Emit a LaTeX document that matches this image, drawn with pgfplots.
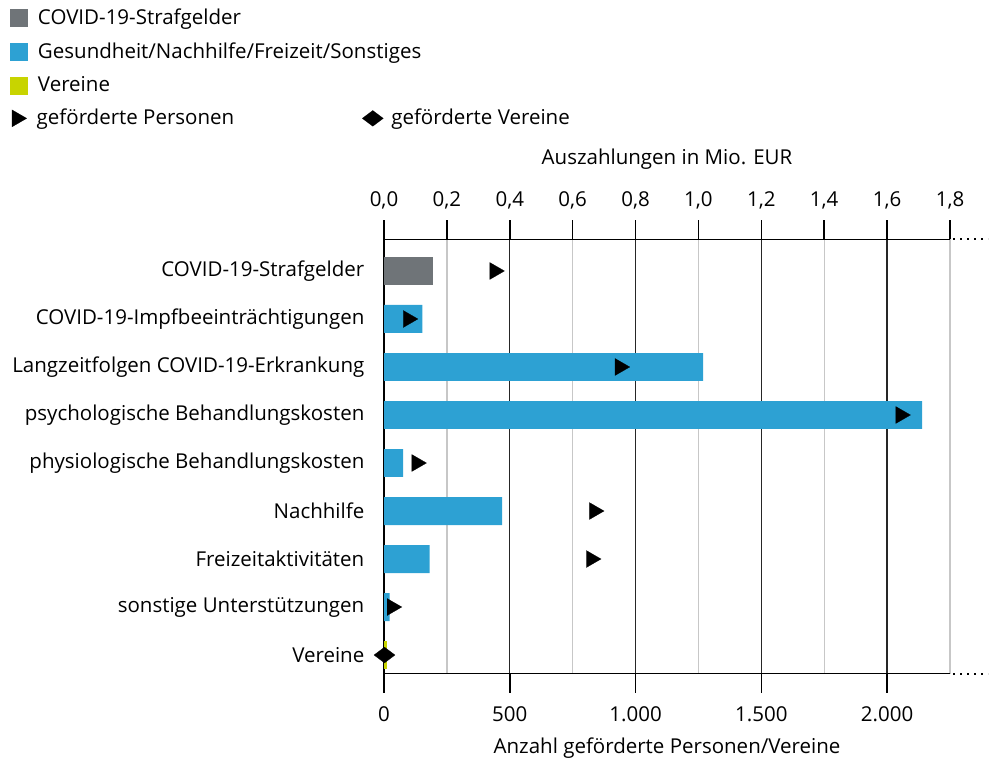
\documentclass[border=0pt]{standalone}
\usepackage{fontspec}
\setmainfont{Open Sans}
\usepackage{pgfplots}
\pgfplotsset{compat=1.18}

\definecolor{cgray}{RGB}{111,116,120}
\definecolor{cblue}{RGB}{45,161,211}
\definecolor{cyellow}{RGB}{200,212,0}

\pgfplotsset{
  base/.style={
    scale only axis, width=566pt, height=434pt,
    at={(667pt,305.5pt)}, anchor=center,
    xmin=0, ymin=-0.656, ymax=8.385, y dir=reverse,
    /pgf/number format/assume math mode=true,
    scaled x ticks=false,
  },
}

\begin{document}
\fontsize{20.5}{24}\selectfont
\begin{tikzpicture}
\useasboundingbox (0pt,0pt) rectangle (992pt,762pt);

% grid + bottom axis (persons)
\begin{axis}[base, xmax=2250,
  axis x line=bottom, axis y line=none,
  axis line style={-, line width=1.6pt, black},
  xtick={0,500,1000,1500,2000},
  minor xtick={250,750,1250,1750,2250},
  xmajorgrids, xminorgrids,
  major grid style={black!85, line width=1.3pt},
  minor grid style={black!22, line width=1.3pt},
  tick align=outside, major tick length=19pt, minor tick length=0pt,
  xtick style={black, line width=1.6pt},
  xticklabel style={inner sep=0pt, yshift=-13.5pt,
    /pgf/number format/fixed, /pgf/number format/precision=0,
    /pgf/number format/1000 sep={.}},
  xlabel={Anzahl geförderte Personen/Vereine},
  xlabel style={at={(axis description cs:0.5,0)}, anchor=base, yshift=-79.5pt, inner sep=0pt},
  ytick=\empty, clip=false]
\addplot[draw=none] coordinates {(0,0)};
\draw[line width=2pt, dash pattern=on 2pt off 5pt] ([xshift=3pt]axis description cs:1,0) -- ([xshift=38pt]axis description cs:1,0);
\draw[line width=2pt, dash pattern=on 2pt off 5pt] ([xshift=3pt]axis description cs:1,1) -- ([xshift=38pt]axis description cs:1,1);
\end{axis}

% bars (Mio. EUR), top axis
\begin{axis}[base, xmax=1.8,
  axis x line=top, axis y line=left,
  axis line style={-, line width=1.6pt, black},
  xtick={0,0.2,0.4,0.6,0.8,1.0,1.2,1.4,1.6,1.8},
  tick align=outside, major tick length=19pt,
  xtick style={black, line width=1.6pt},
  xticklabel style={inner sep=0pt, yshift=11pt,
    /pgf/number format/fixed, /pgf/number format/fixed zerofill,
    /pgf/number format/precision=1, /pgf/number format/use comma},
  xlabel={Auszahlungen in Mio. EUR},
  xlabel style={at={(axis description cs:0.5,1)}, anchor=base, yshift=74.5pt, inner sep=0pt},
  ytick={0,1,2,3,4,5,6,7,8},
  yticklabels={COVID-19-Strafgelder, COVID-19-Impfbeeinträchtigungen, Langzeitfolgen COVID-19-Erkrankung, psychologische Behandlungskosten, physiologische Behandlungskosten, Nachhilfe, Freizeitaktivitäten, sonstige Unterstützungen, Vereine},
  ytick style={draw=none},
  yticklabel style={inner sep=0pt, xshift=-0.5pt},
  legend image code/.code={\fill[#1] (0pt,-9pt) rectangle (18pt,9pt);},
  legend style={at={(axis description cs:-0.6608,1.5311)}, anchor=north west,
    draw=none, fill=none, inner sep=0pt, outer sep=0pt, row sep=15.2pt,
    nodes={inner sep=0pt},
    /tikz/every odd column/.append style={column sep=10pt}},
  legend cell align=left]
\addplot[xbar, bar shift=0pt, bar width=0.583, fill=cgray, draw=none] coordinates {(0.157,0)};
\addlegendentry{COVID-19-Strafgelder}
\addplot[xbar, bar shift=0pt, bar width=0.583, fill=cblue, draw=none] coordinates {
  (0.122,1) (1.015,2) (1.711,3) (0.061,4) (0.376,5) (0.145,6) (0.018,7)};
\addlegendentry{Gesundheit/Nachhilfe/Freizeit/Sonstiges}
\addplot[xbar, bar shift=0pt, bar width=0.583, fill=cyellow, draw=none] coordinates {(0.011,8)};
\addlegendentry{Vereine}
\end{axis}

% markers (persons / clubs)
\begin{axis}[base, xmax=2250, hide axis, clip=false,
  legend columns=2,
  legend style={at={(axis description cs:-0.6572,1.3007)}, anchor=north west,
    draw=none, fill=none, inner sep=0pt, outer sep=0pt,
    nodes={inner sep=0pt},
    /tikz/every odd column/.append style={column sep=8pt},
    /tikz/every even column/.append style={column sep=128pt}},
  legend cell align=left]
\addplot[only marks, mark=triangle*, mark size=9.8pt,
  mark options={rotate=-90, fill=black, draw=black, line width=0.2pt}]
  coordinates {(440,0) (96,1) (938,2) (2054,3) (130,4) (836,5) (824,6) (32,7)};
\addlegendentry{\hspace{2pt}geförderte Personen}
\addplot[only marks, mark=diamond*, mark size=10.5pt,
  mark options={rotate=90, fill=black, draw=black, line width=0.2pt}]
  coordinates {(2,8)};
\addlegendentry{geförderte Vereine}
\end{axis}
\end{tikzpicture}
\end{document}
